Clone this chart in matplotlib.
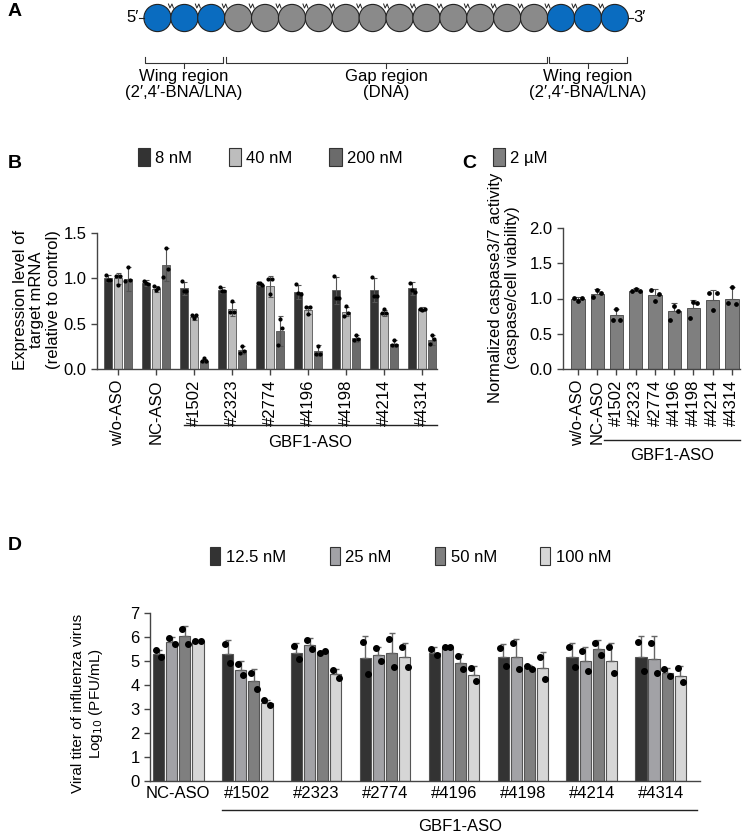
import numpy as np
import matplotlib.pyplot as plt
from matplotlib.patches import Circle, Patch

plt.rcParams['font.family'] = ['Liberation Sans', 'DejaVu Sans']
NARROW = ['Liberation Sans Narrow', 'Liberation Sans', 'DejaVu Sans']

W, H = 748, 835

# ---------------- data ----------------
# panel A: gapmer layout
n_wing = 3
n_gap = 12

# panel B: target mRNA level
b_groups = ['w/o-ASO', 'NC-ASO', '#1502', '#2323', '#2774', '#4196', '#4198', '#4214', '#4314']
b_doses = ['8 nM', '40 nM', '200 nM']
b_mean_8 = [1.00, 0.95, 0.89, 0.87, 0.93, 0.85, 0.87, 0.87, 0.89]
b_mean_40 = [1.00, 0.88, 0.57, 0.66, 0.91, 0.65, 0.63, 0.62, 0.66]
b_mean_200 = [0.99, 1.15, 0.09, 0.21, 0.42, 0.20, 0.34, 0.28, 0.32]
b_err_8 = [0.04, 0.03, 0.07, 0.03, 0.02, 0.08, 0.15, 0.13, 0.07]
b_err_40 = [0.06, 0.03, 0.03, 0.08, 0.12, 0.04, 0.05, 0.03, 0.02]
b_err_200 = [0.13, 0.18, 0.02, 0.04, 0.17, 0.06, 0.04, 0.04, 0.05]
b_pts_8 = [[1.04, 0.98, 0.98], [0.97, 0.95, 0.94], [0.97, 0.86, 0.86], [0.90, 0.86, 0.86],
           [0.95, 0.95, 0.93], [0.94, 0.84, 0.83], [1.03, 0.78, 0.78], [1.01, 0.80, 0.80],
           [0.95, 0.87, 0.85]]
b_pts_40 = [[1.03, 0.93, 1.03], [0.91, 0.87, 0.89], [0.60, 0.56, 0.60], [0.63, 0.75, 0.63],
            [0.99, 0.83, 0.99], [0.68, 0.61, 0.68], [0.58, 0.69, 0.62], [0.62, 0.66, 0.62],
            [0.66, 0.65, 0.66]]
b_pts_200 = [[0.97, 1.13, 0.98], [1.02, 1.33, 1.10], [0.09, 0.12, 0.09], [0.18, 0.25, 0.20],
             [0.27, 0.55, 0.45], [0.17, 0.25, 0.17], [0.32, 0.38, 0.33], [0.27, 0.32, 0.27],
             [0.28, 0.37, 0.33]]

# panel C: caspase activity
c_groups = b_groups
c_mean = [0.99, 1.07, 0.76, 1.11, 1.05, 0.82, 0.86, 0.98, 1.00]
c_err = [0.03, 0.07, 0.09, 0.04, 0.09, 0.12, 0.12, 0.14, 0.17]
c_pts = [[1.01, 0.97, 1.01], [1.02, 1.12, 1.08], [0.70, 0.85, 0.70], [1.10, 1.14, 1.10],
         [1.12, 0.97, 1.07], [0.70, 0.90, 0.82], [0.72, 0.95, 0.93], [1.08, 0.83, 1.08],
         [0.93, 1.17, 0.92]]

# panel D: viral titer
d_groups = ['NC-ASO', '#1502', '#2323', '#2774', '#4196', '#4198', '#4214', '#4314']
d_doses = ['12.5 nM', '25 nM', '50 nM', '100 nM']
d_mean_12 = [5.28, 5.31, 5.35, 5.11, 5.35, 5.18, 5.18, 5.18]
d_mean_25 = [5.81, 4.64, 5.66, 5.26, 5.58, 5.18, 4.99, 5.10]
d_mean_50 = [6.03, 4.15, 5.38, 5.33, 4.91, 4.69, 5.51, 4.50]
d_mean_100 = [5.84, 3.25, 4.45, 5.15, 4.41, 4.72, 5.01, 4.39]
d_err_12 = [0.18, 0.58, 0.39, 0.95, 0.23, 0.52, 0.58, 0.88]
d_err_25 = [0.17, 0.35, 0.28, 0.34, 0.02, 0.75, 0.58, 0.93]
d_err_50 = [0.44, 0.50, 0.05, 0.83, 0.39, 0.15, 0.37, 0.19]
d_err_100 = [0.02, 0.14, 0.22, 0.60, 0.37, 0.65, 0.75, 0.41]
d_pts_12 = [[5.45, 5.17], [5.72, 4.92], [5.64, 5.09], [5.80, 4.47], [5.52, 5.23], [5.56, 4.80], [5.60, 4.77], [5.81, 4.59]]
d_pts_25 = [[5.94, 5.69], [4.89, 4.42], [5.86, 5.49], [5.53, 5.02], [5.57, 5.60], [5.73, 4.66], [5.40, 4.59], [5.75, 4.49]]
d_pts_50 = [[6.35, 5.72], [4.51, 3.82], [5.33, 5.43], [5.91, 4.77], [5.19, 4.65], [4.78, 4.66], [5.77, 5.26], [4.67, 4.38]]
d_pts_100 = [[5.85, 5.85], [3.36, 3.16], [4.61, 4.31], [5.57, 4.73], [4.69, 4.18], [5.18, 4.26], [5.57, 4.50], [4.70, 4.13]]

# ---------------- figure ----------------
fig = plt.figure(figsize=(W / 100, H / 100), dpi=100)


def fx(px):
    return px / W


def fy(py):
    return 1 - py / H


def style_axes(ax):
    for s in ['top', 'right']:
        ax.spines[s].set_visible(False)
    for s in ['left', 'bottom']:
        ax.spines[s].set_color('#444444')
        ax.spines[s].set_linewidth(1.0)
    ax.tick_params(axis='both', colors='#444444', length=4, width=1.0, labelcolor='black')


# panel letters
fig.text(fx(8), fy(12), 'A', fontsize=14, fontweight='bold', va='center', family=NARROW)
fig.text(fx(8), fy(163), 'B', fontsize=14, fontweight='bold', va='center')
fig.text(fx(462), fy(163), 'C', fontsize=14, fontweight='bold', va='center')
fig.text(fx(8), fy(545), 'D', fontsize=14, fontweight='bold', va='center', family=NARROW)

# ---------- panel A ----------
axA = fig.add_axes([0, fy(110), 1, 110 / H])
axA.set_xlim(0, W)
axA.set_ylim(110, 0)
axA.axis('off')
n_tot = 2 * n_wing + n_gap
x0, step, r, cy = 157.5, 26.9, 13.6, 18
for i in range(n_tot):
    col = '#0a6cc0' if (i < n_wing or i >= n_wing + n_gap) else '#8a8a8a'
    axA.add_patch(Circle((x0 + i * step, cy), r, facecolor=col, edgecolor='#222222', lw=0.8, zorder=2))
for i in range(n_tot - 1):
    xj = x0 + (i + 0.5) * step
    axA.plot([xj - 2.5, xj - 1, xj + 1, xj + 2.5], [4, 8, 4, 8], color='#222222', lw=0.7, zorder=3)
x_last = x0 + (n_tot - 1) * step
axA.plot([x0 - r - 5, x0 - r], [cy, cy], color='#222222', lw=0.8)
axA.plot([x_last + r, x_last + r + 5], [cy, cy], color='#222222', lw=0.8)
axA.text(x0 - r - 5, cy, '5′', ha='right', va='center', fontsize=12, family=NARROW)
axA.text(x_last + r + 5, cy, '3′', ha='left', va='center', fontsize=12, family=NARROW)

brackets = [(145, 223, 'Wing region\n(2′,4′-BNA/LNA)'),
            (226, 547, 'Gap region\n(DNA)'),
            (549, 627, 'Wing region\n(2′,4′-BNA/LNA)')]
for xa, xb, lab in brackets:
    axA.plot([xa, xa, xb, xb], [57, 63, 63, 57], color='#333333', lw=0.8)
    xm = (xa + xb) / 2
    axA.plot([xm, xm], [63, 68], color='#333333', lw=0.8)
    axA.text(xm, 69, lab, ha='center', va='top', fontsize=12, family=NARROW, linespacing=1.1)

# ---------- panel B ----------
b_col = ['#333333', '#bdbdbd', '#6b6b6b']
axB = fig.add_axes([fx(97), fy(369), 340 / W, 136 / H])
xb = np.arange(len(b_groups))
bw = 0.22
b_offs = [-0.26, 0.0, 0.26]
jit = np.array([-0.28, 0.0, 0.28]) * bw
for k, (m, e, pts) in enumerate([(b_mean_8, b_err_8, b_pts_8),
                                  (b_mean_40, b_err_40, b_pts_40),
                                  (b_mean_200, b_err_200, b_pts_200)]):
    xs = xb + b_offs[k]
    axB.bar(xs, m, bw, color=b_col[k], edgecolor='#555555', lw=0.6, zorder=2)
    axB.errorbar(xs, m, yerr=e, fmt='none', ecolor='#555555', elinewidth=0.8, capsize=1.8, capthick=0.8, zorder=3)
    for i in range(len(xs)):
        axB.plot(xs[i] + jit, pts[i], 'o', color='black', ms=2.0, zorder=4)
axB.set_xlim(-0.55, 8.39)
axB.set_ylim(0, 1.5)
axB.set_yticks([0, 0.5, 1.0, 1.5])
axB.set_yticklabels(['0.0', '0.5', '1.0', '1.5'], fontsize=12)
axB.set_xticks(xb)
axB.set_xticklabels(b_groups, rotation=90, fontsize=12)
style_axes(axB)
fig.text(fx(37), fy(300), 'Expression level of\ntarget mRNA\n(relative to control)', rotation=90,
         ha='center', va='center', fontsize=12, multialignment='center', linespacing=1.1)
axB.plot([1.74, 8.39], [-0.41, -0.41], color='#222222', lw=1.0, transform=axB.get_xaxis_transform(), clip_on=False)
axB.text(5.05, -0.54, 'GBF1-ASO', ha='center', va='center', fontsize=12, transform=axB.get_xaxis_transform())
hB = [Patch(facecolor=b_col[k], edgecolor='#333333', lw=0.8, label=b_doses[k]) for k in range(3)]
fig.legend(handles=hB, loc='center', bbox_to_anchor=(fx(270), fy(157)), ncol=3, frameon=False, fontsize=12,
           handlelength=0.75, handleheight=1.25, handletextpad=0.3, columnspacing=2.2)

# ---------- panel C ----------
axC = fig.add_axes([fx(563), fy(369), 177 / W, 141 / H])
xc = np.arange(len(c_groups))
cw = 0.69
axC.bar(xc, c_mean, cw, color='#7f7f7f', edgecolor='#444444', lw=0.6, zorder=2)
axC.errorbar(xc, c_mean, yerr=[np.zeros(len(c_err)), c_err], fmt='none', ecolor='#555555',
             elinewidth=0.8, capsize=2, capthick=0.8, zorder=3)
jc = np.array([-0.2, 0.0, 0.2])
for i in range(len(xc)):
    axC.plot(xc[i] + jc, c_pts[i], 'o', color='black', ms=2.4, zorder=4)
axC.set_xlim(-0.78, 8.42)
axC.set_ylim(0, 2.0)
axC.set_yticks([0, 0.5, 1.0, 1.5, 2.0])
axC.set_yticklabels(['0.0', '0.5', '1.0', '1.5', '2.0'], fontsize=12)
axC.set_xticks(xc)
axC.set_xticklabels(c_groups, rotation=90, fontsize=12)
style_axes(axC)
fig.text(fx(504), fy(288), 'Normalized caspase3/7 activity\n(caspase/cell viability)', rotation=90,
         ha='center', va='center', fontsize=12, multialignment='center', linespacing=1.1)
axC.plot([1.35, 8.42], [-0.50, -0.50], color='#222222', lw=1.0, transform=axC.get_xaxis_transform(), clip_on=False)
axC.text(4.9, -0.61, 'GBF1-ASO', ha='center', va='center', fontsize=12, transform=axC.get_xaxis_transform())
hC = [Patch(facecolor='#7f7f7f', edgecolor='#333333', lw=0.8, label='2 µM')]
fig.legend(handles=hC, loc='center', bbox_to_anchor=(fx(520), fy(157)), frameon=False, fontsize=12,
           handlelength=0.75, handleheight=1.25, handletextpad=0.3)

# ---------- panel D ----------
d_col = ['#333333', '#a2a2a6', '#7f7f7f', '#d6d6d6']
axD = fig.add_axes([fx(150), fy(781), 550 / W, 168 / H])
xd = np.arange(len(d_groups))
dw = 0.165
d_offs = [-0.285, -0.095, 0.095, 0.285]
jd = np.array([-0.25, 0.25]) * dw
for k, (m, e, pts) in enumerate([(d_mean_12, d_err_12, d_pts_12),
                                  (d_mean_25, d_err_25, d_pts_25),
                                  (d_mean_50, d_err_50, d_pts_50),
                                  (d_mean_100, d_err_100, d_pts_100)]):
    xs = xd + d_offs[k]
    axD.bar(xs, m, dw, color=d_col[k], edgecolor='#555555', lw=0.8, zorder=2)
    axD.errorbar(xs, m, yerr=[np.zeros(len(e)), e], fmt='none', ecolor='#666666',
                 elinewidth=1.0, capsize=2.2, capthick=1.0, zorder=3)
    for i in range(len(xs)):
        axD.plot(xs[i] + jd, pts[i], 'o', color='black', ms=4, zorder=4)
axD.set_xlim(-0.41, 7.57)
axD.set_ylim(0, 7)
axD.set_yticks(range(8))
axD.set_yticklabels([str(v) for v in range(8)], fontsize=12, family=NARROW)
axD.set_xticks(xd)
axD.set_xticklabels(d_groups, fontsize=12, family=NARROW)
style_axes(axD)
axD.tick_params(axis='x', length=0)
fig.text(fx(88), fy(703), 'Viral titer of influenza virus\nLog$_{10}$ (PFU/mL)', rotation=90,
         ha='center', va='center', fontsize=11, multialignment='center', linespacing=1.15, family=NARROW)
axD.plot([0.64, 7.52], [-0.173, -0.173], color='#222222', lw=1.0, transform=axD.get_xaxis_transform(), clip_on=False)
axD.text(4.09, -0.268, 'GBF1-ASO', ha='center', va='center', fontsize=12, family=NARROW,
         transform=axD.get_xaxis_transform())
hD = [Patch(facecolor=d_col[k], edgecolor='#333333', lw=0.8, label=d_doses[k]) for k in range(4)]
fig.legend(handles=hD, loc='center', bbox_to_anchor=(fx(411), fy(556)), ncol=4, frameon=False,
           prop={'family': NARROW, 'size': 12},
           handlelength=0.6, handleheight=1.25, handletextpad=0.35, columnspacing=2.6)

fig.savefig('out.png', dpi=100)
